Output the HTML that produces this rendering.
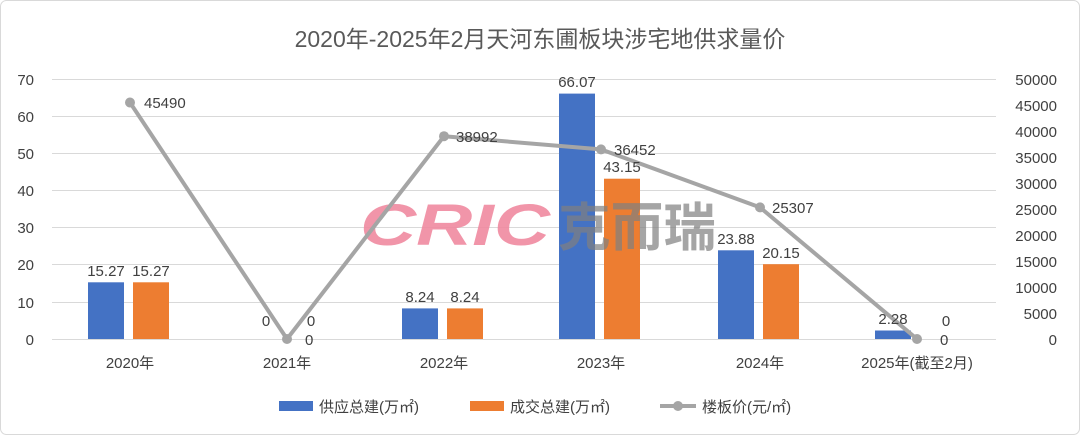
<!DOCTYPE html>
<html><head><meta charset="utf-8"><style>
body{margin:0;background:#fff;}
svg text{font-family:"Liberation Sans","Noto Sans CJK SC",sans-serif;fill:#404040;}
</style></head><body>
<svg width="1080" height="435" xmlns="http://www.w3.org/2000/svg">
<rect x="0.5" y="0.5" width="1079" height="434" rx="6" fill="#fff" stroke="#d9d9d9"/>
<text x="540" y="47" text-anchor="middle" font-size="23" style="fill:#595959">2020年-2025年2月天河东圃板块涉宅地供求量价</text>
<g stroke="#d9d9d9" stroke-width="1">
<line x1="52" x2="996" y1="79.5" y2="79.5"/><line x1="52" x2="996" y1="116.5" y2="116.5"/>
<line x1="52" x2="996" y1="153.5" y2="153.5"/><line x1="52" x2="996" y1="190.5" y2="190.5"/>
<line x1="52" x2="996" y1="227.5" y2="227.5"/><line x1="52" x2="996" y1="264.5" y2="264.5"/>
<line x1="52" x2="996" y1="302.5" y2="302.5"/><line x1="52" x2="996" y1="339.5" y2="339.5"/>
</g>
<g font-size="15" text-anchor="end">
<text x="34" y="85">70</text><text x="34" y="122">60</text><text x="34" y="159">50</text><text x="34" y="196">40</text><text x="34" y="233">30</text><text x="34" y="270">20</text><text x="34" y="308">10</text><text x="34" y="345">0</text>
</g>
<g font-size="15" text-anchor="end">
<text x="1057" y="85">50000</text><text x="1057" y="111">45000</text><text x="1057" y="137">40000</text><text x="1057" y="163">35000</text><text x="1057" y="189">30000</text><text x="1057" y="215">25000</text><text x="1057" y="241">20000</text><text x="1057" y="267">15000</text><text x="1057" y="293">10000</text><text x="1057" y="319">5000</text><text x="1057" y="345">0</text>
</g>
<g fill="#4472c4">
<rect x="88" y="282.3" width="36" height="56.7"/>
<rect x="402" y="308.4" width="36" height="30.6"/>
<rect x="559" y="93.6" width="36" height="245.4"/>
<rect x="718" y="250.3" width="36" height="88.7"/>
<rect x="875" y="330.5" width="36" height="8.5"/>
</g>
<g fill="#ed7d31">
<rect x="133" y="282.3" width="36" height="56.7"/>
<rect x="447" y="308.4" width="36" height="30.6"/>
<rect x="604" y="178.7" width="36" height="160.3"/>
<rect x="763" y="264.2" width="36" height="74.8"/>
</g>
<text x="360" y="245" font-size="58" font-weight="bold" font-style="italic" style="fill:#f08aa0;opacity:0.9" textLength="190" lengthAdjust="spacingAndGlyphs">CRIC</text>
<text x="558" y="246" font-size="52" font-weight="bold" style="fill:#808080;opacity:0.7" textLength="158" lengthAdjust="spacingAndGlyphs">克而瑞</text>
<polyline points="130,102.5 287,339 444,136.2 601,149.4 760,207.4 917,339" fill="none" stroke="#a5a5a5" stroke-width="4" stroke-linejoin="round"/>
<g fill="#a5a5a5">
<circle cx="130" cy="102.5" r="5"/><circle cx="287" cy="339" r="5"/><circle cx="444" cy="136.2" r="5"/><circle cx="601" cy="149.4" r="5"/><circle cx="760" cy="207.4" r="5"/><circle cx="917" cy="339" r="5"/>
</g>
<g font-size="15">
<text x="106" y="276" text-anchor="middle">15.27</text><text x="151" y="276" text-anchor="middle">15.27</text>
<text x="266" y="326" text-anchor="middle">0</text><text x="311" y="326" text-anchor="middle">0</text>
<text x="420" y="302" text-anchor="middle">8.24</text><text x="465" y="302" text-anchor="middle">8.24</text>
<text x="577" y="87" text-anchor="middle">66.07</text><text x="622" y="172" text-anchor="middle">43.15</text>
<text x="736" y="244" text-anchor="middle">23.88</text><text x="781" y="258" text-anchor="middle">20.15</text>
<text x="893" y="324" text-anchor="middle">2.28</text><text x="946" y="326" text-anchor="middle">0</text>
<text x="144" y="108">45490</text><text x="305" y="345">0</text><text x="456" y="142">38992</text><text x="614" y="155">36452</text><text x="772" y="213">25307</text><text x="940" y="345">0</text>
</g>
<g font-size="15" text-anchor="middle">
<text x="130" y="368">2020年</text><text x="287" y="368">2021年</text><text x="444" y="368">2022年</text><text x="601" y="368">2023年</text><text x="760" y="368">2024年</text><text x="917" y="368">2025年(截至2月)</text>
</g>
<rect x="279" y="401" width="34" height="10" fill="#4472c4"/>
<text x="319" y="412" font-size="15">供应总建(万㎡)</text>
<rect x="470" y="401" width="34" height="10" fill="#ed7d31"/>
<text x="510" y="412" font-size="15">成交总建(万㎡)</text>
<line x1="660" x2="696" y1="406" y2="406" stroke="#a5a5a5" stroke-width="4"/>
<circle cx="678" cy="406" r="5" fill="#a5a5a5"/>
<text x="702" y="412" font-size="15">楼板价(元/㎡)</text>
</svg>
</body></html>
